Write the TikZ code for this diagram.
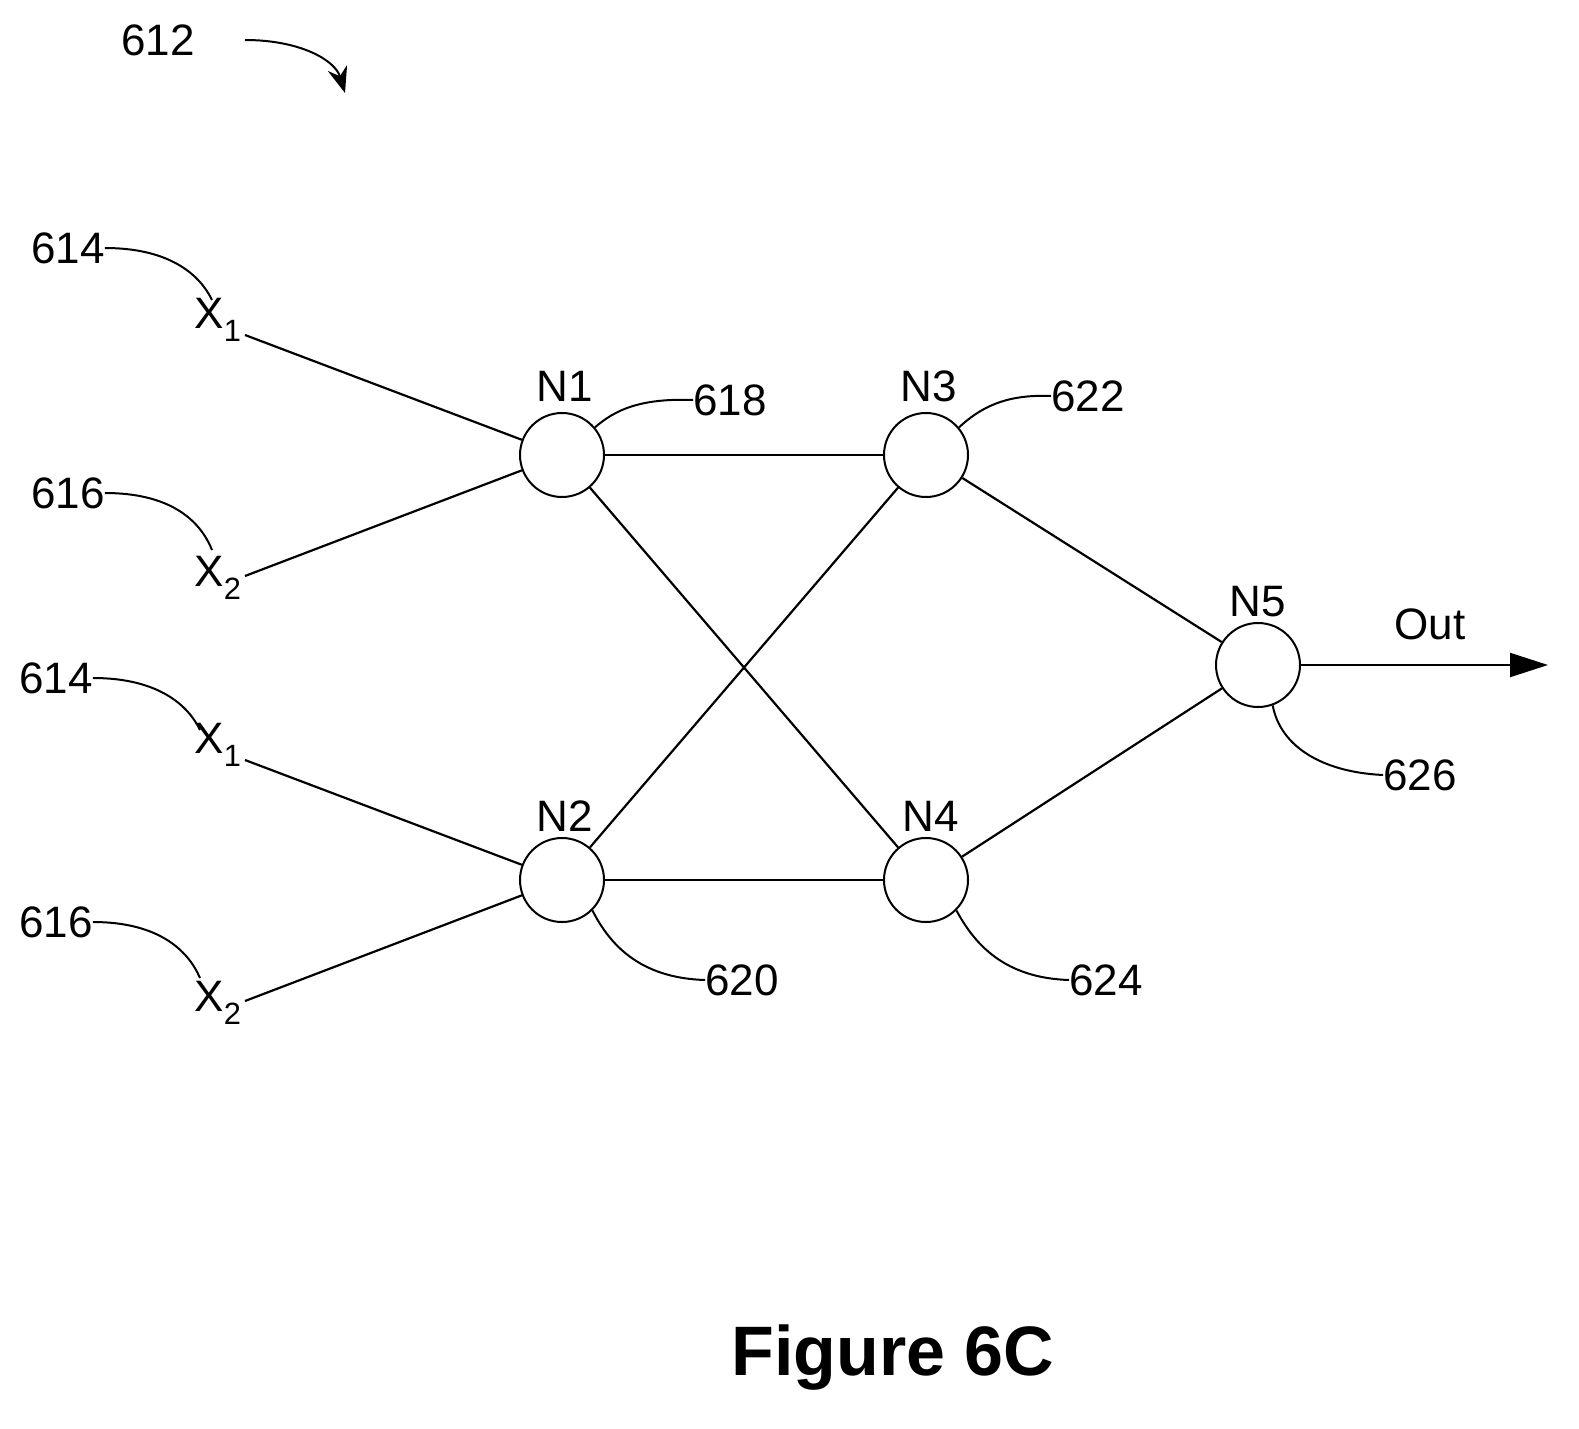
\documentclass[tikz,border=0pt]{standalone}
\usepackage{fontspec}
\setmainfont{Liberation Sans}
\usetikzlibrary{arrows.meta}
\begin{document}
\begin{tikzpicture}[x=1pt,y=-1pt,
  neuron/.style={circle,draw,line width=2pt,minimum size=84pt,inner sep=0pt},
  lbl/.style={font=\fontsize{44}{48}\selectfont,inner sep=0pt},
  edge/.style={line width=2.2pt},
  lead/.style={line width=2pt}]
\useasboundingbox (0,0) rectangle (1579,1429);
\node[neuron] (n1) at (562,455) {};
\node[neuron] (n2) at (562,880) {};
\node[neuron] (n3) at (926,455) {};
\node[neuron] (n4) at (926,880) {};
\node[neuron] (n5) at (1258,665) {};
\node[lbl] (ln1) at (565,386) {N1};
\node[lbl] (ln2) at (565,816) {N2};
\node[lbl] (ln3) at (929,386) {N3};
\node[lbl] (ln4) at (931,816) {N4};
\node[lbl] (ln5) at (1258,602) {N5};
\node[lbl] (x1a) at (218,320) {X\textsubscript{1}};
\node[lbl] (x2a) at (218,578) {X\textsubscript{2}};
\node[lbl] (x1b) at (218,745) {X\textsubscript{1}};
\node[lbl] (x2b) at (218,1003) {X\textsubscript{2}};
\coordinate (x1ae) at (245,335);
\coordinate (x2ae) at (245,576);
\coordinate (x1be) at (245,760);
\coordinate (x2be) at (245,1001);
\draw[edge] (x1ae) -- (n1);
\draw[edge] (x2ae) -- (n1);
\draw[edge] (x1be) -- (n2);
\draw[edge] (x2be) -- (n2);
\draw[edge] (n1) -- (n3);
\draw[edge] (n1) -- (n4);
\draw[edge] (n2) -- (n3);
\draw[edge] (n2) -- (n4);
\draw[edge] (n3) -- (n5);
\draw[edge] (n4) -- (n5);
\node[lbl] (out) at (1430,624) {Out};
\coordinate (oute) at (1548,665);
\draw[edge,-{Triangle[length=38pt,width=24pt]}] (n5) -- (oute);
% reference labels
\node[lbl] (r612) at (158,40) {612};
\coordinate (a612s) at (245,40);
\coordinate (a612e) at (345,93);
\draw[lead,-{Stealth[length=26pt,width=20pt]}] (a612s) .. controls (300,40) and (335,60) .. (a612e);
\node[lbl] (r614a) at (68,248) {614};
\draw[lead] (r614a.east) .. controls (170,248) and (200,275) .. (212,300);
\node[lbl] (r616a) at (68,493) {616};
\draw[lead] (r616a.east) .. controls (170,493) and (200,520) .. (212,550);
\node[lbl] (r614b) at (56,678) {614};
\draw[lead] (r614b.east) .. controls (158,678) and (188,705) .. (200,730);
\node[lbl] (r616b) at (56,922) {616};
\draw[lead] (r616b.east) .. controls (158,922) and (188,950) .. (200,978);
\node[lbl] (r618) at (730,400) {618};
\draw[lead] (n1.40) .. controls (615,410) and (640,398) .. (r618.west);
\node[lbl] (r622) at (1088,396) {622};
\draw[lead] (n3.40) .. controls (980,408) and (1005,394) .. (r622.west);
\node[lbl] (r620) at (742,980) {620};
\draw[lead] (n2.-45) .. controls (610,945) and (640,978) .. (r620.west);
\node[lbl] (r624) at (1106,980) {624};
\draw[lead] (n4.-45) .. controls (975,945) and (1005,978) .. (r624.west);
\node[lbl] (r626) at (1420,775) {626};
\draw[lead] (n5.-70) .. controls (1280,745) and (1320,772) .. (r626.west);
\node[font=\fontsize{70}{80}\selectfont\bfseries,inner sep=0pt] (fig) at (893,1358) {Figure 6C};
\end{tikzpicture}
\end{document}
